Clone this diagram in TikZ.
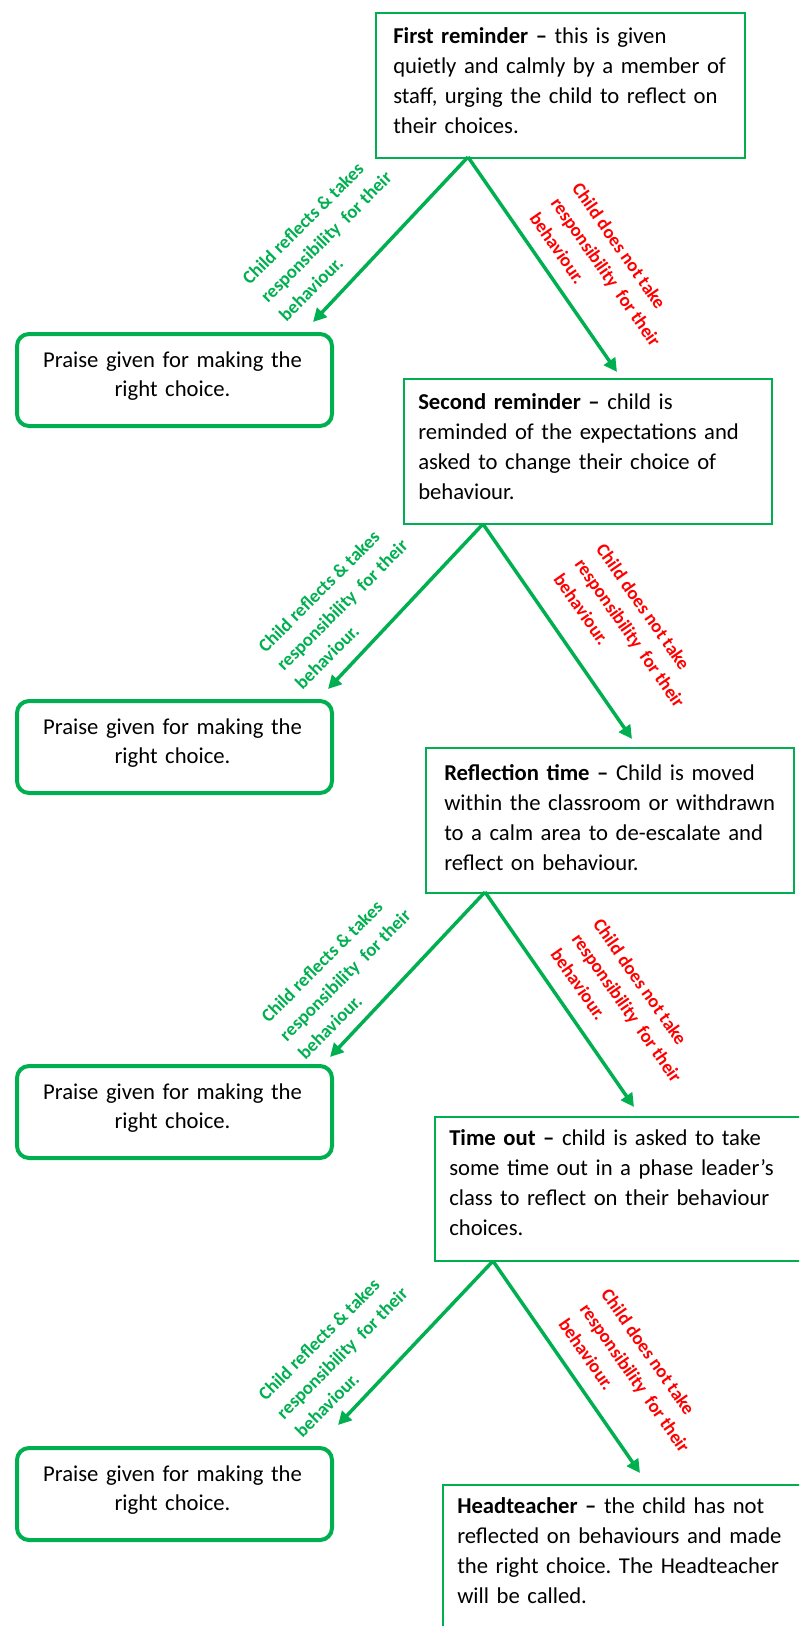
\documentclass[tikz,border=0pt]{standalone}
\usepackage{fontspec}
\setmainfont{Carlito}
\usetikzlibrary{arrows.meta}
\definecolor{grn}{RGB}{0,176,80}
\definecolor{rd}{RGB}{255,0,0}
\frenchspacing
\begin{document}
\begin{tikzpicture}[x=0.75pt,y=-0.75pt,
  rbox/.style={draw=grn, line width=1.5pt, anchor=north west, inner sep=0pt},
  pbox/.style={draw=grn, line width=3pt, rounded corners=9pt, anchor=north west, inner sep=0pt, minimum width=236.25pt, minimum height=69pt},
  btxt/.style={anchor=north west, inner sep=0pt, align=left, text width=300pt, font=\fontsize{17}{22.5}\selectfont},
  ptxt/.style={anchor=north, inner sep=0pt, align=center, text width=230pt, font=\fontsize{17}{21.75}\selectfont},
  glab/.style={text=grn, font=\bfseries\fontsize{14}{19.5}\selectfont, align=left, rotate=45, inner sep=0pt},
  rlab/.style={text=rd, font=\bfseries\fontsize{14}{19.5}\selectfont, align=left, rotate=-55, inner sep=0pt},
  arr/.style={draw=grn, line width=2.6pt, -{Triangle[length=10pt,width=10pt]}}]
\useasboundingbox (0,0) rectangle (799,1626);
\fill[white] (0,0) rectangle (799,1626);
\clip (0,0) rectangle (799,1626);

% main boxes
\node[rbox, minimum width=276.75pt, minimum height=108.75pt] (b1) at (375,12) {};
\node[rbox, minimum width=276pt, minimum height=108.75pt] (b2) at (403,378) {};
\node[rbox, minimum width=276pt, minimum height=108.75pt] (b3) at (425,747) {};
\node[rbox, minimum width=282pt, minimum height=108pt] (b4) at (434,1116) {};
\node[rbox, minimum width=277.5pt, minimum height=150pt] (b5) at (442,1484) {};

\node[btxt] (t1) at (393,22) {\strut\textbf{First reminder –} this is given\\quietly\ and calmly by a member of\\staff, urging the child to reflect on\\their choices.};
\node[btxt] (t2) at (418,388) {\strut\textbf{Second reminder –} child is\\reminded of the expectations and\\asked to change their choice of\\behaviour.};
\node[btxt] (t3) at (444,759) {\strut\textbf{Reflection time –} Child is moved\\within the classroom or withdrawn\\to a calm area to de-escalate and\\reflect on behaviour.};
\node[btxt] (t4) at (449,1124) {\strut\textbf{Time out –} child is asked to take\\some time out in a phase leader’s\\class to reflect on their behaviour\\choices.};
\node[btxt] (t5) at (457,1492) {\strut\textbf{Headteacher –} the child has not\\reflected on behaviours and made\\the right choice. The Headteacher\\will be called.};

% praise boxes
\node[pbox] (p1) at (15,332) {};
\node[pbox] (p2) at (15,699) {};
\node[pbox] (p3) at (15,1064) {};
\node[pbox] (p4) at (15,1446) {};
\node[ptxt] (pt1) at (172.5,347) {\strut Praise given for making the\\right choice.};
\node[ptxt] (pt2) at (172.5,714) {\strut Praise given for making the\\right choice.};
\node[ptxt] (pt3) at (172.5,1079) {\strut Praise given for making the\\right choice.};
\node[ptxt] (pt4) at (172.5,1461) {\strut Praise given for making the\\right choice.};

% arrow end points
\coordinate (a1) at (468,157);  \coordinate (l1) at (313,322);  \coordinate (r1) at (617,372);
\coordinate (a2) at (483,524);  \coordinate (l2) at (328,689);  \coordinate (r2) at (632,739);
\coordinate (a3) at (485,892);  \coordinate (l3) at (330,1057); \coordinate (r3) at (634,1107);
\coordinate (a4) at (493,1261); \coordinate (l4) at (338,1425); \coordinate (r4) at (640,1473);

\foreach \i in {1,2,3,4}{
  \draw[arr] (a\i) -- (l\i);
  \draw[arr] (a\i) -- (r\i);
}

% labels
\node[glab] (g1) at (326,237) {Child reflects \& takes\\responsibility\ \ for their\\behaviour.};
\node[rlab] (k1) at (606,272) {Child does not take\\responsibility\ \ for their\\behaviour.};
\node[glab] (g2) at (342,605) {Child reflects \& takes\\responsibility\ \ for their\\behaviour.};
\node[rlab] (k2) at (630,633) {Child does not take\\responsibility\ \ for their\\behaviour.};
\node[glab] (g3) at (345,975) {Child reflects \& takes\\responsibility\ \ for their\\behaviour.};
\node[rlab] (k3) at (627,1008) {Child does not take\\responsibility\ \ for their\\behaviour.};
\node[glab] (g4) at (342,1353) {Child reflects \& takes\\responsibility\ \ for their\\behaviour.};
\node[rlab] (k4) at (635,1378) {Child does not take\\responsibility\ \ for their\\behaviour.};
\end{tikzpicture}
\end{document}
